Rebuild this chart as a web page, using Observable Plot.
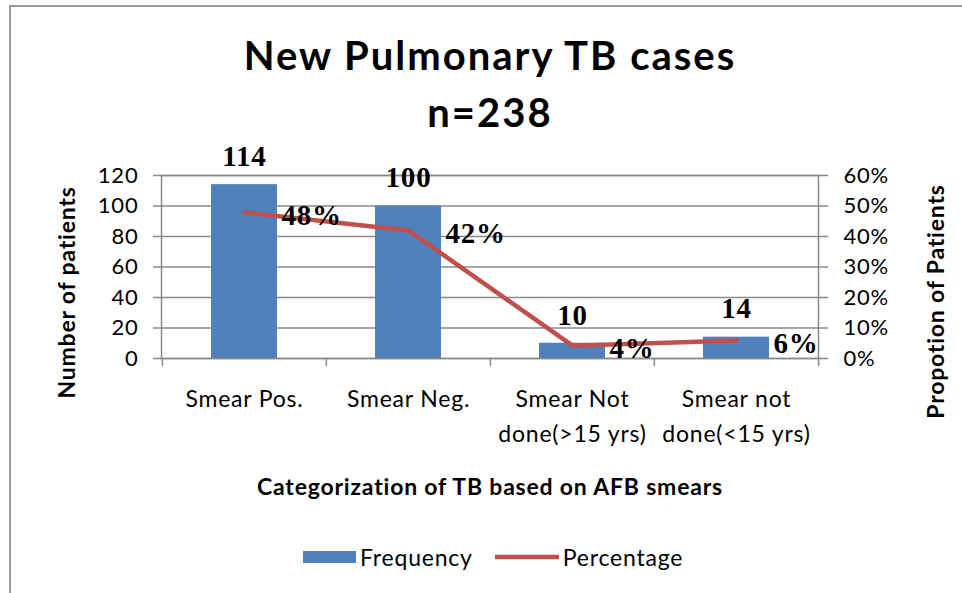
<!DOCTYPE html>
<html>
<head>
<meta charset="utf-8">
<script src="https://cdn.jsdelivr.net/npm/d3@7"></script>
<script src="https://cdn.jsdelivr.net/npm/@observablehq/plot@0.6"></script>
<style>
  html, body { margin: 0; padding: 0; background: #fff; }
  #wrap { position: relative; width: 962px; height: 593px; overflow: hidden; font-family: Lato, "Open Sans", sans-serif; color: #000; }
  #border { position: absolute; left: 9px; top: 5px; width: 1000px; height: 700px; border-left: 2px solid #999; border-top: 2px solid #999; }
  #title { position: absolute; left: 0; top: 27px; width: 980px; text-align: center; font-weight: bold; font-size: 40px; line-height: 57px; letter-spacing: 2px; }
  #chart { position: absolute; left: 0; top: 150px; }
  #legend { position: absolute; left: 303px; top: 543px; height: 28px; display: flex; align-items: center; font-size: 23px; letter-spacing: 0.8px; }
  #legend svg { display: block; }
</style>
</head>
<body>
<div id="wrap">
  <div id="border"></div>
  <div id="title">New Pulmonary TB cases<br>n=238</div>
  <div id="chart"></div>
  <div id="legend"></div>
</div>
<script>
// ---- data ----
const categories = ["Smear Pos.", "Smear Neg.", "Smear Not\ndone(>15 yrs)", "Smear not\ndone(<15 yrs)"];
const frequency = [114, 100, 10, 14];
const percentage = [0.479, 0.420, 0.042, 0.059];
const percentLabels = ["48%", "42%", "4%", "6%"];
const countTicks = [0, 20, 40, 60, 80, 100, 120];
const percentTicks = [0, 0.1, 0.2, 0.3, 0.4, 0.5, 0.6];
const seriesNames = ["Frequency", "Percentage"];
const xTitle = "Categorization of TB based on AFB smears";
const yTitleLeft = "Number of patients";
const yTitleRight = "Propotion of Patients";

// ---- layout ----
const data = categories.map((c, i) => ({category: c, frequency: frequency[i], percentage: percentage[i], label: percentLabels[i]}));
const width = 962, height = 360;
const mL = 161, mR = 144, mT = 25, mB = 152;
const plotW = width - mL - mR, plotH = height - mT - mB;
const step = plotW / categories.length;
const k = countTicks[countTicks.length - 1] / percentTicks[percentTicks.length - 1]; // count units per 1.0 share
const gray = "#8a8a8a";
const barColor = "#4F81BD";
const lineColor = "#C0504D";
const serif = "'Liberation Serif', 'Times New Roman', serif";

const chart = Plot.plot({
  width, height,
  marginLeft: mL, marginRight: mR, marginTop: mT, marginBottom: mB,
  style: {fontFamily: "Lato, 'Open Sans', sans-serif", fontSize: "22px", letterSpacing: "0.8px", color: "#000", background: "transparent", overflow: "visible"},
  x: {type: "band", domain: categories, paddingInner: 0.6, paddingOuter: 0.3},
  y: {domain: [0, countTicks[countTicks.length - 1]]},
  marks: [
    Plot.gridY(countTicks, {stroke: gray, strokeOpacity: 1, strokeWidth: 1.5}),
    Plot.barY(data, {x: "category", y: "frequency", fill: barColor}),
    Plot.frame({stroke: gray, strokeWidth: 1.5}),
    Plot.ruleX(data, {x: "category", dx: -step / 2, insetTop: plotH, insetBottom: -8, stroke: gray, strokeWidth: 1.5}),
    Plot.ruleX([categories[categories.length - 1]], {x: d => d, dx: step / 2, insetTop: plotH, insetBottom: -8, stroke: gray, strokeWidth: 1.5}),
    Plot.axisY(countTicks, {anchor: "left", tickSize: 8, tickPadding: 15, stroke: gray, strokeWidth: 1.5, label: null, fontSize: 22}),
    Plot.axisY(percentTicks.map(p => p * k), {anchor: "right", tickSize: 9, tickPadding: 16, stroke: gray, strokeWidth: 1.5, label: null, fontSize: 22,
      tickFormat: d => Math.round(d / k * 100) + "%"}),
    Plot.axisX({tickSize: 0, tickPadding: 24, lineHeight: 1.52, label: null, fontSize: 23}),
    Plot.lineY(data, {x: "category", y: d => d.percentage * k, stroke: lineColor, strokeWidth: 4.5}),
    Plot.text(data, {x: "category", y: "frequency", text: d => String(d.frequency), dy: -28,
      fontFamily: serif, fontWeight: "bold", fontSize: 29, fill: "#000"}),
    Plot.text(data, {x: "category", y: d => d.percentage * k, text: "label", textAnchor: "start", dx: 37, dy: 3,
      fontFamily: serif, fontWeight: "bold", fontSize: 29, fill: "#000"}),
    Plot.text([yTitleLeft], {frameAnchor: "left", textAnchor: "middle", lineAnchor: "middle", dx: -94, dy: 25.5, rotate: -90,
      fontWeight: "bold", fontSize: 23, fill: "#000"}),
    Plot.text([yTitleRight], {frameAnchor: "right", textAnchor: "middle", lineAnchor: "middle", dx: 118, dy: 34.5, rotate: -90,
      fontWeight: "bold", fontSize: 23, fill: "#000"}),
    Plot.text([xTitle], {frameAnchor: "bottom", textAnchor: "middle", lineAnchor: "middle", dy: 129,
      fontWeight: "bold", fontSize: 23, fill: "#000"})
  ]
});
document.getElementById("chart").appendChild(chart);

// ---- legend ----
const legend = document.getElementById("legend");
legend.innerHTML =
  `<svg width="53" height="14"><rect x="0" y="1" width="53" height="12" fill="${barColor}"></rect></svg>` +
  `<span style="margin-left:4px">${seriesNames[0]}</span>` +
  `<svg width="64" height="14" style="margin-left:22px"><line x1="0" x2="64" y1="7" y2="7" stroke="${lineColor}" stroke-width="4.5"></line></svg>` +
  `<span style="margin-left:4px">${seriesNames[1]}</span>`;
</script>
</body>
</html>
